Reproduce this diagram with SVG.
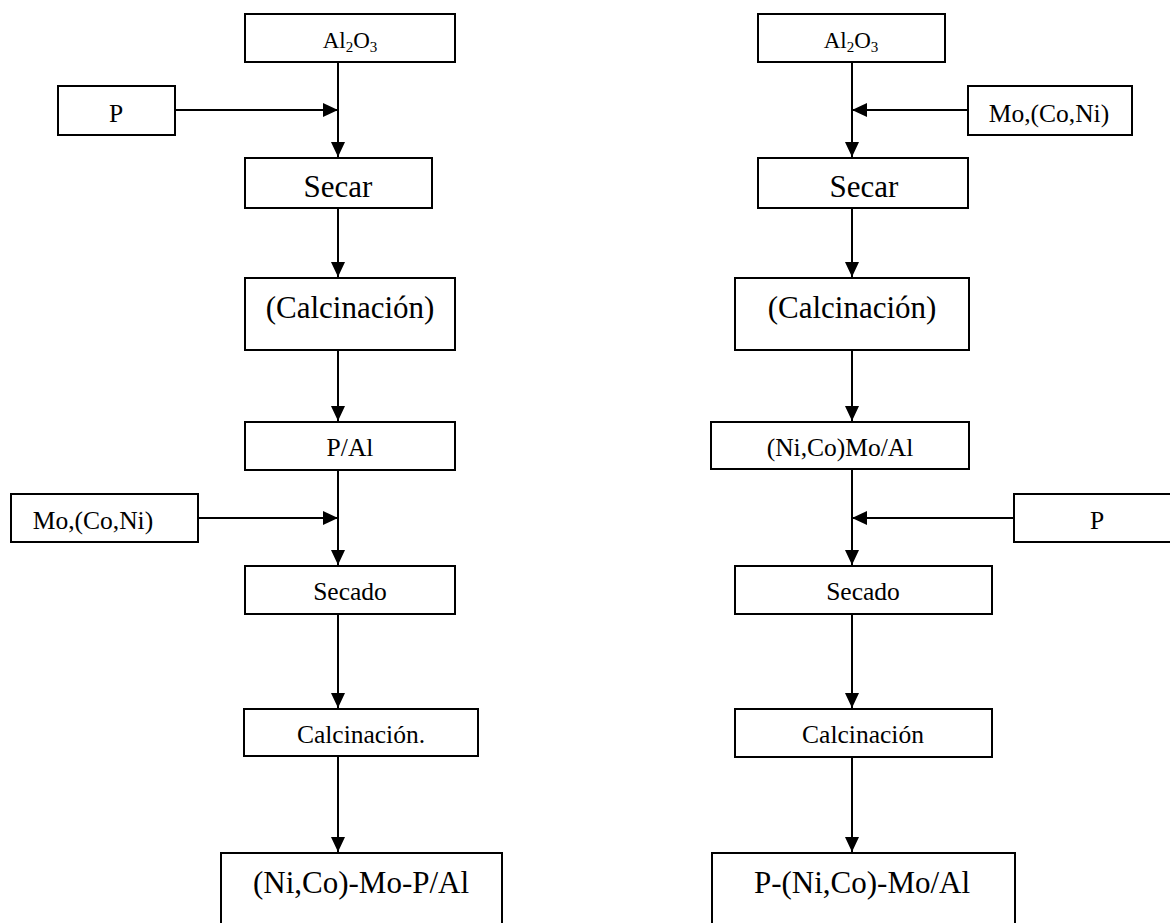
<svg xmlns="http://www.w3.org/2000/svg" width="1170" height="923" viewBox="0 0 1170 923">
  <style>
    .box { fill: #fff; stroke: #000; stroke-width: 2; }
    .lbl { font-family: "Liberation Serif", "Times New Roman", serif; fill: #000; text-anchor: middle; }
    .sm { font-size: 25.5px; }
    .lg { font-size: 31px; }
    .ox { font-size: 23px; }
    .sub { font-size: 15px; }
    .wire { fill: none; stroke: #000; stroke-width: 2; }
  </style>
  <defs>
    <marker id="arrow" markerUnits="userSpaceOnUse" markerWidth="15" markerHeight="14" refX="15" refY="7" orient="auto">
      <path d="M0,0 L15,7 L0,14 Z" fill="#000"/>
    </marker>
  </defs>
  <rect width="1170" height="923" fill="#fff"/>

  <!-- connectors -->
  <g id="connectors" class="wire" marker-end="url(#arrow)">
    <!-- left route -->
    <line x1="338" y1="62" x2="338" y2="157"/>
    <line x1="175" y1="110" x2="338" y2="110"/>
    <line x1="338" y1="208" x2="338" y2="277"/>
    <line x1="338" y1="350" x2="338" y2="421"/>
    <line x1="338" y1="470" x2="338" y2="565"/>
    <line x1="198" y1="518" x2="338" y2="518"/>
    <line x1="338" y1="614" x2="338" y2="708"/>
    <line x1="338" y1="756" x2="338" y2="852"/>
    <!-- right route -->
    <line x1="852" y1="62" x2="852" y2="157"/>
    <line x1="968" y1="110" x2="852" y2="110"/>
    <line x1="852" y1="208" x2="852" y2="277"/>
    <line x1="852" y1="350" x2="852" y2="421"/>
    <line x1="852" y1="469" x2="852" y2="565"/>
    <line x1="1014" y1="518" x2="852" y2="518"/>
    <line x1="852" y1="614" x2="852" y2="708"/>
    <line x1="852" y1="757" x2="852" y2="852"/>
  </g>

  <!-- left route: P first, then Mo,(Co,Ni) -->
  <g id="l-alumina">
    <rect class="box" x="245" y="14" width="210" height="48"/>
    <text class="lbl ox" x="350" y="48">Al<tspan class="sub" dy="4">2</tspan><tspan dy="-4">O</tspan><tspan class="sub" dy="4">3</tspan></text>
  </g>
  <g id="l-p">
    <rect class="box" x="58" y="86" width="117" height="49"/>
    <text class="lbl sm" x="116" y="122">P</text>
  </g>
  <g id="l-secar">
    <rect class="box" x="245" y="158" width="187" height="50"/>
    <text class="lbl lg" x="338" y="197">Secar</text>
  </g>
  <g id="l-calcinacion">
    <rect class="box" x="245" y="278" width="210" height="72"/>
    <text class="lbl lg" x="350" y="318">(Calcinación)</text>
  </g>
  <g id="l-pal">
    <rect class="box" x="245" y="422" width="210" height="48"/>
    <text class="lbl sm" x="350" y="456">P/Al</text>
  </g>
  <g id="l-mo">
    <rect class="box" x="11" y="494" width="187" height="48"/>
    <text class="lbl sm" x="93" y="529">Mo,(Co,Ni)</text>
  </g>
  <g id="l-secado">
    <rect class="box" x="245" y="566" width="210" height="48"/>
    <text class="lbl sm" x="350" y="600">Secado</text>
  </g>
  <g id="l-calc2">
    <rect class="box" x="244" y="709" width="234" height="47"/>
    <text class="lbl sm" x="361" y="743">Calcinación.</text>
  </g>
  <g id="l-product">
    <path class="box" d="M221,930 V853 H502 V930"/>
    <text class="lbl lg" x="361" y="893">(Ni,Co)-Mo-P/Al</text>
  </g>

  <!-- right route: Mo,(Co,Ni) first, then P -->
  <g id="r-alumina">
    <rect class="box" x="758" y="14" width="187" height="48"/>
    <text class="lbl ox" x="851" y="48">Al<tspan class="sub" dy="4">2</tspan><tspan dy="-4">O</tspan><tspan class="sub" dy="4">3</tspan></text>
  </g>
  <g id="r-mo">
    <rect class="box" x="968" y="86" width="164" height="49"/>
    <text class="lbl sm" x="1049" y="122">Mo,(Co,Ni)</text>
  </g>
  <g id="r-secar">
    <rect class="box" x="758" y="158" width="210" height="50"/>
    <text class="lbl lg" x="864" y="197">Secar</text>
  </g>
  <g id="r-calcinacion">
    <rect class="box" x="735" y="278" width="234" height="72"/>
    <text class="lbl lg" x="852" y="318">(Calcinación)</text>
  </g>
  <g id="r-nicomoal">
    <rect class="box" x="711" y="422" width="258" height="47"/>
    <text class="lbl sm" x="840" y="456">(Ni,Co)Mo/Al</text>
  </g>
  <g id="r-p">
    <rect class="box" x="1014" y="494" width="170" height="48"/>
    <text class="lbl sm" x="1097" y="529">P</text>
  </g>
  <g id="r-secado">
    <rect class="box" x="735" y="566" width="257" height="48"/>
    <text class="lbl sm" x="863" y="600">Secado</text>
  </g>
  <g id="r-calc2">
    <rect class="box" x="735" y="709" width="257" height="48"/>
    <text class="lbl sm" x="863" y="743">Calcinación</text>
  </g>
  <g id="r-product">
    <path class="box" d="M712,930 V853 H1015 V930"/>
    <text class="lbl lg" x="862" y="893">P-(Ni,Co)-Mo/Al</text>
  </g>
</svg>
